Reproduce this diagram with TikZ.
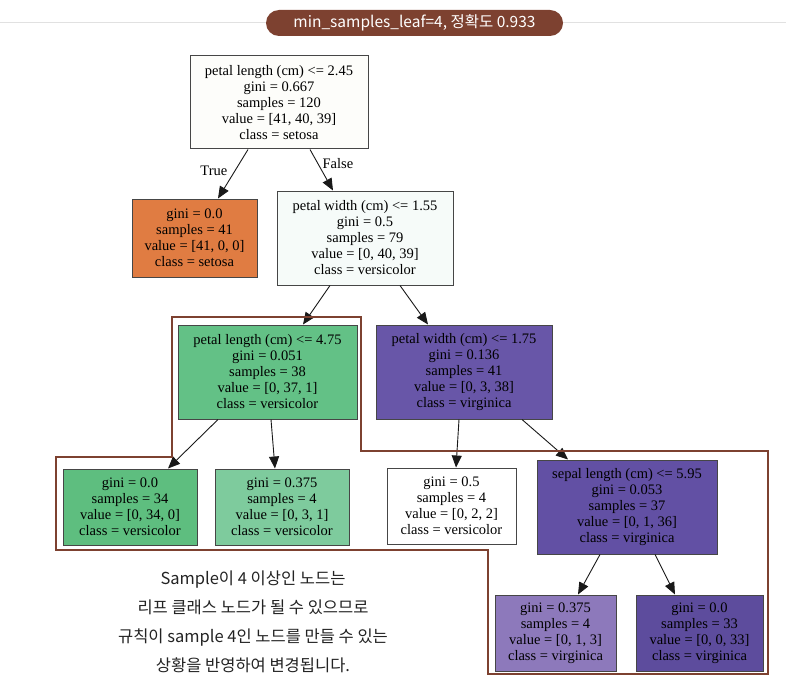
\documentclass[tikz,border=0pt]{standalone}
\usepackage{fontspec}
\setmainfont{Liberation Serif}
\newfontfamily\krfont{Noto Sans CJK KR}
\usepackage{tikz}
\usetikzlibrary{arrows.meta, positioning}
\definecolor{framebrown}{RGB}{125, 65, 48}
\definecolor{rulegray}{RGB}{225, 225, 225}
\definecolor{nodegray}{RGB}{70, 70, 70}
\definecolor{rootfill}{RGB}{253, 253, 250}
\definecolor{setosafill}{RGB}{224, 124, 66}
\definecolor{mixfill}{RGB}{246, 251, 249}
\definecolor{greenfill}{RGB}{99, 193, 134}
\definecolor{greenpure}{RGB}{94, 190, 127}
\definecolor{greenlight}{RGB}{126, 203, 157}
\definecolor{purplefill}{RGB}{104, 86, 168}
\definecolor{purpledeep}{RGB}{98, 80, 164}
\definecolor{purplelight}{RGB}{141, 121, 187}
\definecolor{purpledark}{RGB}{93, 76, 157}
\definecolor{notetext}{RGB}{35, 35, 35}
\tikzset{
  tnode/.style={rectangle, draw=nodegray, line width=1pt, minimum width=#1,
              minimum height=76pt, inner sep=0pt, align=center,
              font=\fontsize{14.5}{16}\selectfont},
  tnode/.default=130pt,
  arrow/.style={-{Triangle[length=12pt,width=10pt]}, line width=0.9pt, color=black!90},
  frameline/.style={draw=framebrown, line width=2.2pt},
}

\begin{document}
\begin{tikzpicture}[x=1pt, y=-1pt, node distance=40pt]
  \useasboundingbox (0,0) rectangle (786,687);

  \draw[rulegray, line width=1pt] (0,23) -- (786,23);
  \node[rectangle, rounded corners=13pt, fill=framebrown, text=white, minimum width=297pt, minimum height=26pt, inner sep=0pt,
        font=\krfont\fontsize{15.5}{18}\selectfont] (title) at (414.5,23) {min\_samples\_leaf=4, 정확도 0.933};

  \node[tnode=178pt, fill=rootfill, minimum height=93pt] (root) at (279,102.5)
        {petal length (cm) <= 2.45\\gini = 0.667\\samples = 120\\value = [41, 40, 39]\\class = setosa};
  \node[tnode=125pt, fill=setosafill, minimum height=78pt, below=49pt of root, xshift=-84.5pt] (setosa)
        {gini = 0.0\\samples = 41\\value = [41, 0, 0]\\class = setosa};
  \node[tnode=176pt, fill=mixfill, minimum height=94pt, below=41pt of root, xshift=86pt] (pwa)
        {petal width (cm) <= 1.55\\gini = 0.5\\samples = 79\\value = [0, 40, 39]\\class = versicolor};

  \node[tnode=179pt, fill=greenfill, minimum height=94pt, below=39pt of pwa, xshift=-97.5pt] (plb)
        {petal length (cm) <= 4.75\\gini = 0.051\\samples = 38\\value = [0, 37, 1]\\class = versicolor};
  \node[tnode=176pt, fill=purplefill, minimum height=94pt, below=39pt of pwa, xshift=99pt] (pwc)
        {petal width (cm) <= 1.75\\gini = 0.136\\samples = 41\\value = [0, 3, 38]\\class = virginica};

  \node[tnode=134pt, fill=greenpure, below=49pt of plb, xshift=-137.5pt] (leafa)
        {gini = 0.0\\samples = 34\\value = [0, 34, 0]\\class = versicolor};
  \node[tnode=134pt, fill=greenlight, below=49pt of plb, xshift=14.5pt] (leafb)
        {gini = 0.375\\samples = 4\\value = [0, 3, 1]\\class = versicolor};
  \node[tnode=129pt, fill=white, below=48pt of pwc, xshift=-12.5pt] (leafc)
        {gini = 0.5\\samples = 4\\value = [0, 2, 2]\\class = versicolor};
  \node[tnode=180pt, fill=purpledeep, minimum height=94pt, below=40pt of pwc, xshift=163pt] (sepal)
        {sepal length (cm) <= 5.95\\gini = 0.053\\samples = 37\\value = [0, 1, 36]\\class = virginica};

  \node[tnode=121pt, fill=purplelight, below=40pt of sepal, xshift=-71.5pt] (leafd)
        {gini = 0.375\\samples = 4\\value = [0, 1, 3]\\class = virginica};
  \node[tnode=127pt, fill=purpledark, below=40pt of sepal, xshift=72.5pt] (leafe)
        {gini = 0.0\\samples = 33\\value = [0, 0, 33]\\class = virginica};

  \draw[arrow] ([xshift=-31pt]root.south) -- node[pos=0.43, left=4pt, font=\fontsize{14.5}{16}\selectfont, text=black]{True} ([xshift=23.5pt]setosa.north);
  \draw[arrow] ([xshift=31pt]root.south) -- node[pos=0.34, right=1pt, font=\fontsize{14.5}{16}\selectfont, text=black]{False} ([xshift=-32pt]pwa.north);
  \draw[arrow] ([xshift=-35pt]pwa.south) -- ([xshift=35.5pt]plb.north);
  \draw[arrow] ([xshift=35pt]pwa.south) -- ([xshift=-36pt]pwc.north);
  \draw[arrow] ([xshift=-49.5pt]plb.south) -- ([xshift=38pt]leafa.north);
  \draw[arrow] ([xshift=3.5pt]plb.south) -- ([xshift=-7pt]leafb.north);
  \draw[arrow] ([xshift=-5pt]pwc.south) -- ([xshift=4.5pt]leafc.north);
  \draw[arrow] ([xshift=58pt]pwc.south) -- ([xshift=-59pt]sepal.north);
  \draw[arrow] ([xshift=-27pt]sepal.south) -- ([xshift=22.5pt]leafd.north);
  \draw[arrow] ([xshift=28pt]sepal.south) -- ([xshift=-24.5pt]leafe.north);

  \draw[frameline] (172,317) -- (361,317) -- (361,451) -- (768,451) -- (768,674) -- (488,674)
        -- (488,550) -- (56,550) -- (56,457) -- (172,457) -- cycle;

  \node[align=center, text=notetext, font=\krfont\fontsize{16.5}{29}\selectfont] (note) at (253,621.5)
       {Sample이 4 이상인 노드는\\리프 클래스 노드가 될 수 있으므로\\규칙이 sample 4인 노드를 만들 수 있는\\상황을 반영하여 변경됩니다.};
\end{tikzpicture}
\end{document}
